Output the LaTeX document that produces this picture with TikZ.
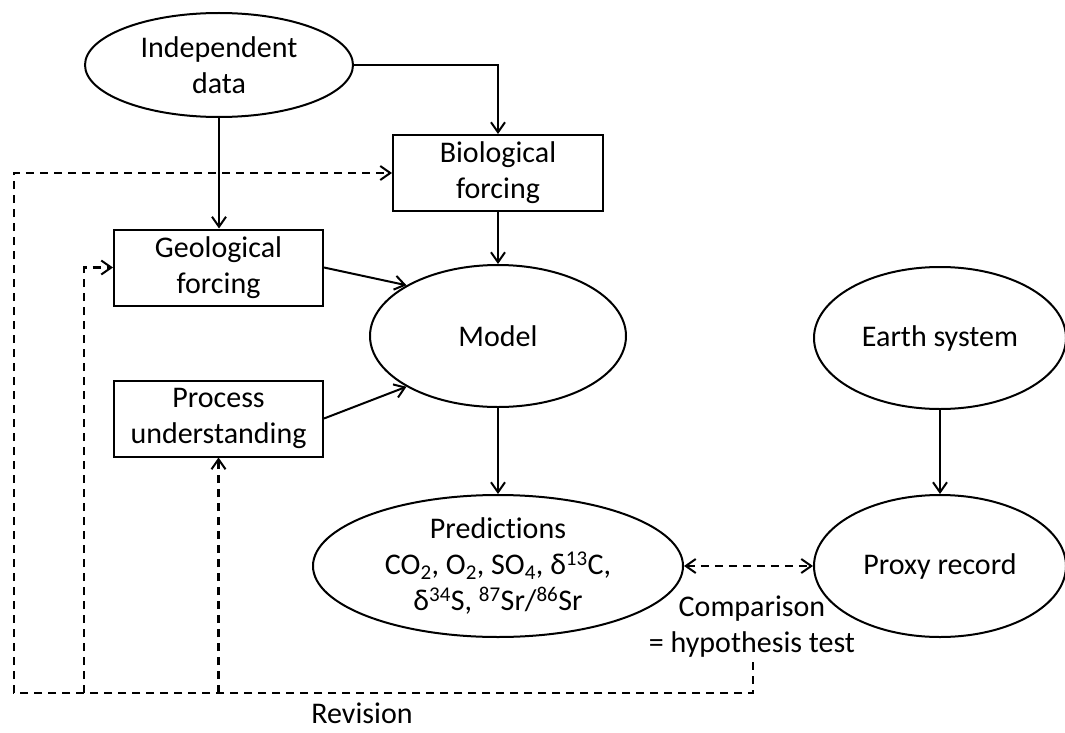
\documentclass[tikz,border=0pt]{standalone}
\usepackage{fontspec}
\setmainfont{Carlito}[Ligatures=NoCommon]
\usetikzlibrary{shapes.geometric,arrows.meta}
\begin{document}
\begin{tikzpicture}[x=1pt,y=-1pt,
  every node/.style={font=\fontsize{30}{36}\selectfont, align=center},
  boxnode/.style={draw, line width=2pt, rectangle, minimum width=209pt, minimum height=76pt, inner sep=0pt},
  ellnode/.style={draw, line width=2pt, ellipse, inner sep=0pt},
  tip/.tip={Straight Barb[length=10pt,width=14pt,line width=2pt]},
  conn/.style={line width=2pt, -tip},
  dsh/.style={line width=2.2pt, dash pattern=on 8pt off 6pt},
  plain/.style={draw=none, inner sep=0pt}
]
\useasboundingbox (0,0) rectangle (1065,733);

\node[ellnode, minimum width=268pt, minimum height=104pt] (indep) at (219,65) {Independent\\data};
\node[boxnode, minimum width=210pt] (bio) at (498,173) {Biological\\forcing};
\node[boxnode] (geo) at (218.5,267.5) {Geological\\forcing};
\node[boxnode] (proc) at (218.5,418.5) {Process\\understanding};
\node[ellnode, minimum width=256pt, minimum height=142pt] (model) at (498,336) {Model};
\node[ellnode, minimum width=370pt, minimum height=142pt] (pred) at (498,566) {Predictions\\CO\textsubscript{2}, O\textsubscript{2}, SO\textsubscript{4}, δ\textsuperscript{13}C,\\δ\textsuperscript{34}S, \textsuperscript{87}Sr/\textsuperscript{86}Sr};
\node[ellnode, minimum width=252pt, minimum height=142pt] (earth) at (940,338) {Earth system};
\node[ellnode, minimum width=252pt, minimum height=142pt] (proxy) at (940,566) {Proxy record};
\node[plain] (cmp) at (752,627) {Comparison\\= hypothesis test};
\node[plain] (rev) at (362,713) {Revision};

% solid connectors
\draw[conn] (indep.east) -| (bio.north);
\draw[conn] (indep.south) -- (indep.south |- geo.north);
\draw[conn] (bio.south) -- (model.north);
\draw[conn] (geo.east) -- (model.151);
\draw[conn] (proc.east) -- (model.209);
\draw[conn] (model.south) -- (pred.north);
\draw[conn] (earth.south) -- (proxy.north);

% comparison
\draw[dsh, tip-tip] (pred.east) -- (proxy.west);

% revision loop
\coordinate (rv) at (753,662);
\coordinate (c1) at (14,693);
\coordinate (c2) at (84,693);
\coordinate (c3) at (218.5,693);
\draw[dsh, -tip] (rv) |- (c1) |- (bio.west);
\draw[dsh, -tip] (c2) |- (geo.west);
\draw[dsh, -tip] (c3) -- (proc.south);
\end{tikzpicture}
\end{document}
